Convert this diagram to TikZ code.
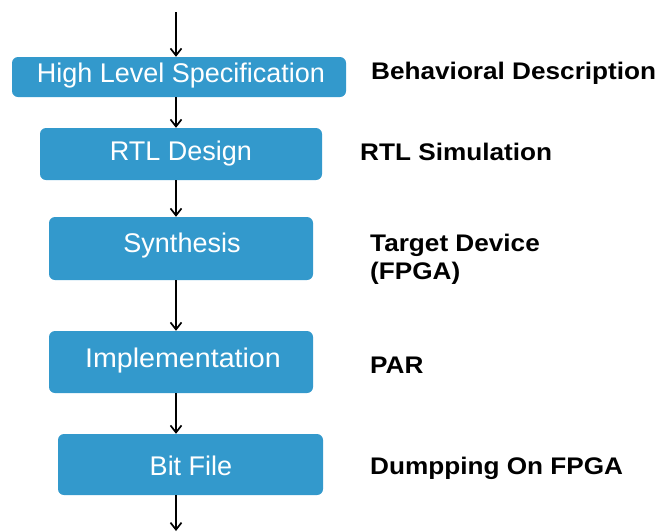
\documentclass[tikz,border=0pt]{standalone}
\usepackage{fontspec}
\setmainfont{Liberation Sans}
\usetikzlibrary{arrows.meta}
\definecolor{stepblue}{RGB}{51,153,204}
\begin{document}
\begin{tikzpicture}[x=1pt,y=-1pt,
  stepbox/.style={fill=stepblue, draw=none, rounded corners=6pt, inner sep=0pt},
  caption/.style={text=white, inner sep=0pt, font=\fontsize{27}{30}\selectfont},
  note/.style={anchor=west, inner sep=0pt, align=left,
    font=\bfseries\fontsize{24}{28}\selectfont, xscale=1.09},
  flow/.style={draw=black, line width=1.7pt, -{Straight Barb[length=7pt,width=11pt,line width=1.7pt]}}]
\useasboundingbox (0,0) rectangle (660,531);

% process boxes
\node[stepbox, minimum width=334pt, minimum height=40pt] (b1) at (179,77) {};
\node[stepbox, minimum width=282pt, minimum height=52pt] (b2) at (181,154) {};
\node[stepbox, minimum width=264pt, minimum height=63pt] (b3) at (181,248.5) {};
\node[stepbox, minimum width=264pt, minimum height=62pt] (b4) at (181,362) {};
\node[stepbox, minimum width=265pt, minimum height=61pt] (b5) at (190.5,464.5) {};

% box captions
\node[caption] (t1) at (181,76) {High Level Specification};
\node[caption] (t2) at (181,154) {RTL Design};
\node[caption] (t3) at (182,246) {Synthesis};
\node[caption, xscale=1.06] (t4) at (183,361) {Implementation};
\node[caption] (t5) at (191,466) {Bit File};

% side notes
\node[note] (n1) at (371,73) {Behavioral Description};
\node[note] (n2) at (360,152) {RTL Simulation};
\node[note] (n3) at (370,259) {Target Device\\(FPGA)};
\node[note] (n4) at (370,365) {PAR};
\node[note] (n5) at (370,468) {Dumpping On FPGA};

% flow arrows
\coordinate (in) at (176,12);
\coordinate (out) at (176,531);
\draw[flow] (in) -- (b1.north -| in);
\draw[flow] (b1.south -| in) -- (b2.north -| in);
\draw[flow] (b2.south -| in) -- (b3.north -| in);
\draw[flow] (b3.south -| in) -- (b4.north -| in);
\draw[flow] (b4.south -| in) -- (b5.north -| in);
\draw[flow] (b5.south -| in) -- (out);
\end{tikzpicture}
\end{document}
